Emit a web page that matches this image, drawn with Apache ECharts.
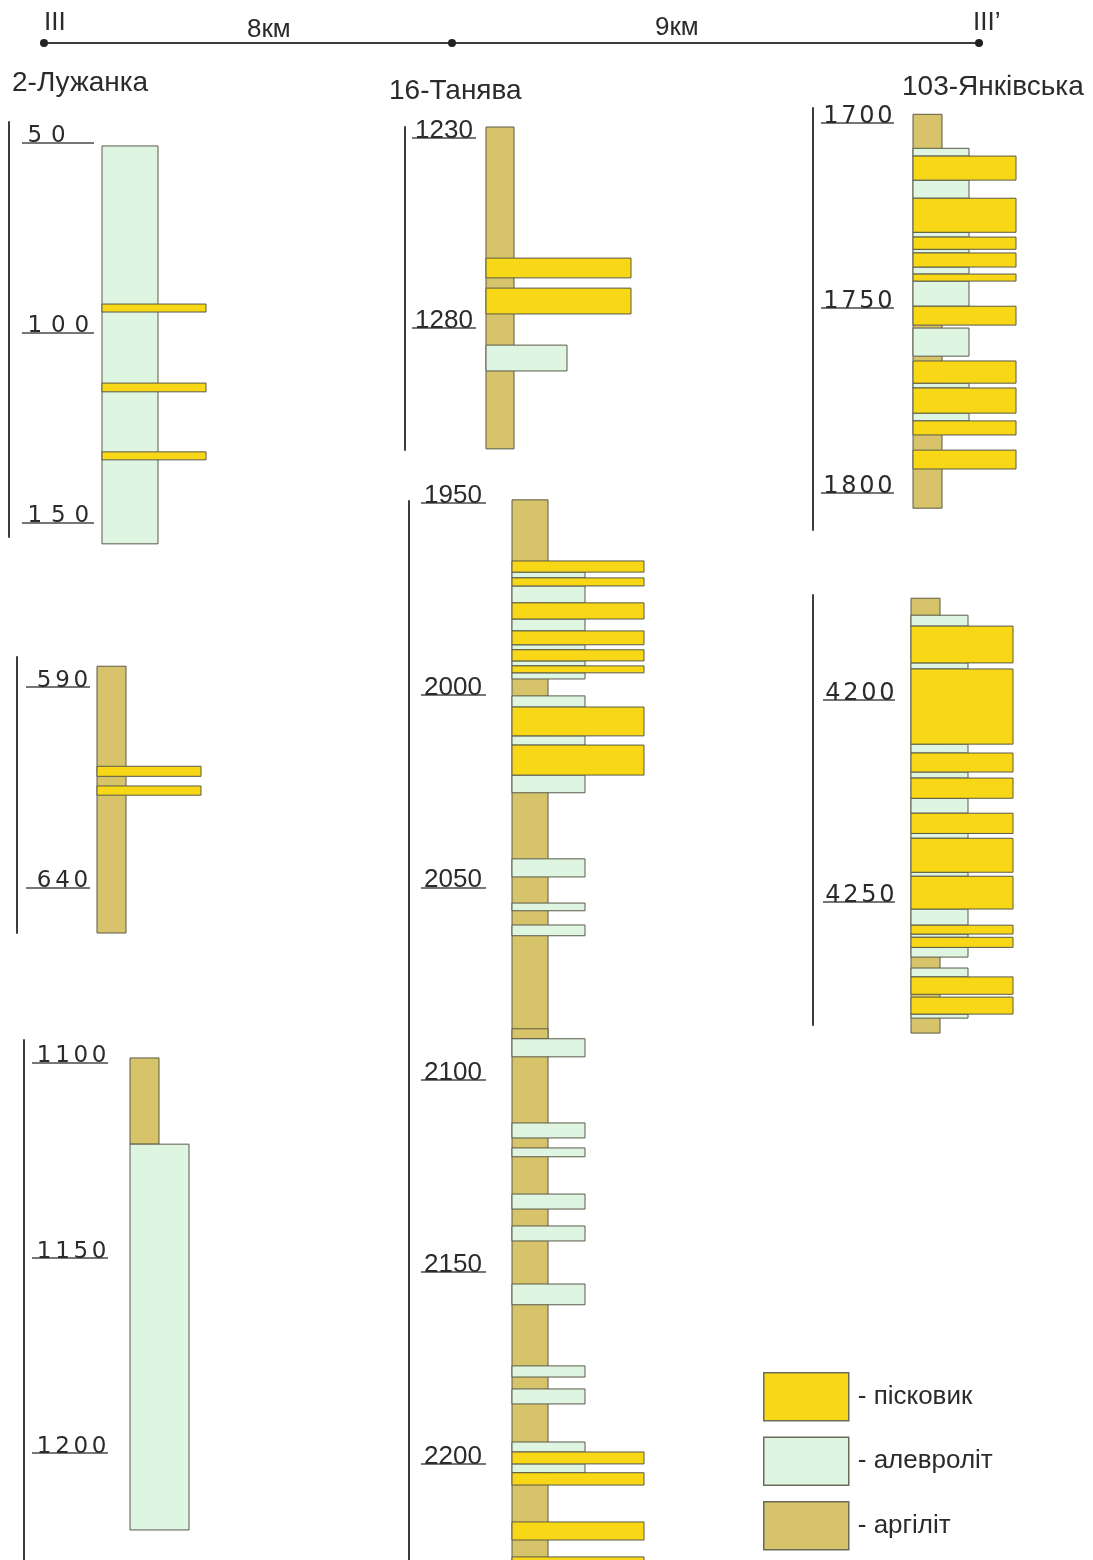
<!DOCTYPE html>
<html>
<head>
<meta charset="utf-8">
<script src="https://cdn.jsdelivr.net/npm/echarts@6/dist/echarts.min.js"></script>
<style>
  html, body { margin: 0; padding: 0; background: #ffffff; }
  #chart { width: 1093px; height: 1560px; }
</style>
</head>
<body>
<div id="chart"></div>
<script>
// ---- Well intervals: [top depth, bottom depth, rock type] (depth in metres) ----
const luzhankaUpper = [
  [50.8, 155.5, 'silt'],
  [92.4, 94.5, 'sand'],
  [113.2, 115.5, 'sand'],
  [131.3, 133.4, 'sand']
];
const luzhankaMiddle = [
  [584.8, 651.2, 'arg'],
  [609.7, 612.2, 'sand'],
  [614.6, 616.9, 'sand']
];
const luzhankaLower = [
  [1098.7, 1120.8, 'arg'],
  [1120.8, 1219.7, 'silt']
];
const tanyavaUpper = [
  [1227.1, 1311.8, 'arg'],
  [1261.6, 1266.8, 'sand'],
  [1269.5, 1276.3, 'sand'],
  [1284.5, 1291.3, 'silt']
];
const tanyavaLower = [
  [1949.2, 2228.0, 'arg'],
  [2086.8, 2089.4, 'arg'],
  [1965.1, 1968.0, 'sand'], [1968.0, 1969.5, 'silt'],
  [1969.5, 1971.6, 'sand'], [1971.6, 1976.0, 'silt'],
  [1976.0, 1980.2, 'sand'], [1980.2, 1983.3, 'silt'],
  [1983.3, 1986.9, 'sand'], [1986.9, 1988.2, 'silt'],
  [1988.2, 1991.1, 'sand'], [1991.1, 1992.4, 'silt'],
  [1992.4, 1994.2, 'sand'], [1994.2, 1995.8, 'silt'],
  [2000.2, 2003.1, 'silt'], [2003.1, 2010.6, 'sand'],
  [2010.6, 2013.0, 'silt'], [2013.0, 2020.8, 'sand'],
  [2020.8, 2025.4, 'silt'],
  [2042.6, 2047.3, 'silt'], [2054.1, 2056.1, 'silt'],
  [2059.8, 2062.6, 'silt'], [2089.4, 2094.1, 'silt'],
  [2111.3, 2115.2, 'silt'], [2117.8, 2120.1, 'silt'],
  [2129.8, 2133.7, 'silt'], [2138.1, 2142.0, 'silt'],
  [2153.2, 2158.6, 'silt'], [2174.5, 2177.4, 'silt'],
  [2180.5, 2184.4, 'silt'], [2194.3, 2196.9, 'silt'],
  [2196.9, 2200.0, 'sand'], [2200.0, 2202.3, 'silt'],
  [2202.3, 2205.5, 'sand'], [2215.1, 2219.8, 'sand'],
  [2224.2, 2228.0, 'sand']
];
const yankivskaUpper = [
  [1697.6, 1804.1, 'arg'],
  [1706.8, 1708.9, 'silt'], [1708.9, 1715.4, 'sand'],
  [1715.4, 1720.3, 'silt'], [1720.3, 1729.5, 'sand'],
  [1729.5, 1730.8, 'silt'], [1730.8, 1734.1, 'sand'],
  [1734.1, 1735.1, 'silt'], [1735.1, 1738.9, 'sand'],
  [1738.9, 1740.8, 'silt'], [1740.8, 1742.7, 'sand'],
  [1742.7, 1749.5, 'silt'], [1749.5, 1754.6, 'sand'],
  [1755.4, 1763.0, 'silt'], [1764.3, 1770.3, 'sand'],
  [1770.3, 1771.6, 'silt'], [1771.6, 1778.4, 'sand'],
  [1778.4, 1780.5, 'silt'], [1780.5, 1784.3, 'sand'],
  [1788.4, 1793.5, 'sand']
];
const yankivskaLower = [
  [4174.8, 4282.4, 'arg'],
  [4179.0, 4181.7, 'silt'], [4181.7, 4190.8, 'sand'],
  [4190.8, 4192.3, 'silt'], [4192.3, 4210.9, 'sand'],
  [4210.9, 4213.1, 'silt'], [4213.1, 4217.8, 'sand'],
  [4217.8, 4219.3, 'silt'], [4219.3, 4224.3, 'sand'],
  [4224.3, 4228.0, 'silt'], [4228.0, 4233.0, 'sand'],
  [4233.0, 4234.2, 'silt'], [4234.2, 4242.6, 'sand'],
  [4242.6, 4243.6, 'silt'], [4243.6, 4251.7, 'sand'],
  [4251.7, 4255.7, 'silt'], [4255.7, 4257.9, 'sand'],
  [4257.9, 4258.7, 'silt'], [4258.7, 4261.2, 'sand'],
  [4261.2, 4263.6, 'silt'], [4266.3, 4268.5, 'silt'],
  [4268.5, 4272.8, 'sand'], [4273.5, 4277.7, 'sand'],
  [4277.7, 4278.7, 'silt']
];

// ---- Depth tick labels ----
const luzhankaUpperTicks = [50, 100, 150];
const luzhankaMiddleTicks = [590, 640];
const luzhankaLowerTicks = [1100, 1150, 1200];
const tanyavaUpperTicks = [1230, 1280];
const tanyavaLowerTicks = [1950, 2000, 2050, 2100, 2150, 2200];
const yankivskaUpperTicks = [1700, 1750, 1800];
const yankivskaLowerTicks = [4200, 4250];

// ---- Names ----
const wellNames = ['2-Лужанка', '16-Танява', '103-Янківська'];
const profileEnds = ['III', 'III\u2019'];
const distances = ['8км', '9км'];
const rockTypes = ['sand', 'silt', 'arg'];
const rockNames = { sand: 'пісковик', silt: 'алевроліт', arg: 'аргіліт' };

// ---- Styling ----
const rockColors = { sand: '#f8d816', silt: '#def5e2', arg: '#d7c46a' };
const rockStroke = '#5a5a48';
const WIDE = 'DejaVu Sans';
const PLAIN = 'Liberation Sans';

// Section layout: depth range of the depth bar and pixel placement of each log.
// digit > 0 spreads the label digits into fixed-width cells (wide lettering).
const sections = [
  { layers: luzhankaUpper,  ticks: luzhankaUpperTicks,  range: [44.5, 153.7],
    lineX: 9,   top: 122, bottom: 537,  col: 102, w: { arg: 29, silt: 56, sand: 104 },
    ul: 22,  ulLen: 72, margin: 1, font: WIDE,  size: 23, digit: 23.5, lh: 13 },
  { layers: luzhankaMiddle, ticks: luzhankaMiddleTicks, range: [582.5, 651.2],
    lineX: 17,  top: 657, bottom: 933,  col: 97,  w: { arg: 29, silt: 56, sand: 104 },
    ul: 26,  ulLen: 64, margin: 9, font: WIDE,  size: 23, digit: 18.3, lh: 13 },
  { layers: luzhankaLower,  ticks: luzhankaLowerTicks,  range: [1094.1, 1227.4],
    lineX: 24,  top: 1040, bottom: 1560, col: 130, w: { arg: 29, silt: 59, sand: 104 },
    ul: 32,  ulLen: 76, margin: 3, font: WIDE,  size: 23, digit: 18.3, lh: 13 },
  { layers: tanyavaUpper,   ticks: tanyavaUpperTicks,   range: [1227.1, 1312.1],
    lineX: 405, top: 127, bottom: 450,  col: 486, w: { arg: 28, silt: 81, sand: 145 },
    ul: 412, ulLen: 64, margin: 3, font: PLAIN, size: 26, digit: 0, lh: 14 },
  { layers: tanyavaLower,   ticks: tanyavaLowerTicks,   range: [1949.5, 2225.0],
    lineX: 409, top: 501, bottom: 1560, col: 512, w: { arg: 36, silt: 73, sand: 132 },
    ul: 421, ulLen: 65, margin: 3, font: PLAIN, size: 26, digit: 0, lh: 14 },
  { layers: yankivskaUpper, ticks: yankivskaUpperTicks, range: [1695.9, 1810.0],
    lineX: 813, top: 108, bottom: 530,  col: 913, w: { arg: 29, silt: 56, sand: 103 },
    ul: 821, ulLen: 73, margin: 1, font: WIDE,  size: 24, digit: 18, lh: 13 },
  { layers: yankivskaLower, ticks: yankivskaLowerTicks, range: [4174.0, 4280.4],
    lineX: 813, top: 595, bottom: 1025, col: 911, w: { arg: 29, silt: 57, sand: 102 },
    ul: 823, ulLen: 72, margin: 1, font: WIDE,  size: 24, digit: 18, lh: 13 }
];

const grid = [], xAxis = [], yAxis = [], series = [];

sections.forEach(function (s, i) {
  const shift = s.col - s.ul;   // column starts this far right of the depth marks
  grid.push({ left: s.ul, top: s.top, width: shift + s.w.sand, height: s.bottom - s.top });
  xAxis.push({ gridIndex: i, type: 'value', min: 0, max: 1, show: false });

  // depth bar (vertical line)
  yAxis.push({
    gridIndex: i, type: 'value', inverse: true, min: s.range[0], max: s.range[1],
    position: 'left', offset: s.ul - s.lineX,
    axisLine: { show: true, onZero: false, lineStyle: { color: '#3c3c3c', width: 2 } },
    axisTick: { show: false }, axisLabel: { show: false }, splitLine: { show: false }
  });

  // underlined depth marks
  const labelRich = s.digit ? {
    d: { width: s.digit, align: 'center', fontFamily: s.font, fontSize: s.size,
         lineHeight: s.lh, color: '#2b2b2b' }
  } : undefined;
  yAxis.push({
    gridIndex: i, type: 'value', inverse: true, min: s.range[0], max: s.range[1],
    position: 'left',
    axisLine: { show: false },
    axisTick: { show: true, inside: true, length: s.ulLen, customValues: s.ticks,
      lineStyle: { color: '#4a4a4a', width: 1.5 } },
    axisLabel: {
      show: true, inside: true, customValues: s.ticks, margin: s.margin,
      align: 'left', verticalAlign: 'bottom', lineHeight: s.lh,
      fontFamily: s.font, fontSize: s.size, color: '#2b2b2b',
      rich: labelRich,
      formatter: function (v) {
        const txt = String(v);
        if (!s.digit) return txt;
        return txt.split('').map(function (c) { return '{d|' + c + '}'; }).join('');
      }
    },
    splitLine: { show: false }
  });

  rockTypes.slice().reverse().forEach(function (rock) {
    const rows = s.layers.filter(function (r) { return r[2] === rock; })
      .map(function (r) { return [r[0], r[1]]; });
    series.push({
      type: 'custom',
      name: rockNames[rock],
      xAxisIndex: i, yAxisIndex: 2 * i + 1,
      clip: false,
      itemStyle: { color: rockColors[rock], borderColor: rockStroke, borderWidth: 1 },
      encode: { y: [0, 1] },
      data: rows,
      renderItem: function (params, api) {
        const p0 = api.coord([0, api.value(0)]);
        const p1 = api.coord([0, api.value(1)]);
        return {
          type: 'rect',
          shape: { x: p0[0] + shift, y: p0[1], width: s.w[rock], height: p1[1] - p0[1] },
          style: { fill: rockColors[rock], stroke: rockStroke, lineWidth: 1 }
        };
      }
    });
  });
});

const headerFont = 'Liberation Sans, sans-serif';
function headerText(txt, x, y, size) {
  return { type: 'text', x: x, y: y,
    style: { text: txt, font: size + 'px ' + headerFont, fill: '#2b2b2b',
             verticalAlign: 'middle', align: 'left' } };
}

const option = {
  animation: false,
  backgroundColor: '#ffffff',
  grid: grid,
  xAxis: xAxis,
  yAxis: yAxis,
  series: series,
  legend: {
    orient: 'vertical', left: 758, top: 1367,
    itemWidth: 85, itemHeight: 48, itemGap: 15,
    selectedMode: false,
    data: rockTypes.map(function (r) {
      return { name: rockNames[r], icon: 'rect',
        itemStyle: { color: rockColors[r], borderColor: '#6b6b5c', borderWidth: 1.5 } };
    }),
    formatter: function (n) { return '- ' + n; },
    textStyle: { fontFamily: PLAIN, fontSize: 26, color: '#2b2b2b', padding: [0, 0, 0, 4] }
  },
  graphic: [
    { type: 'line', shape: { x1: 44, y1: 43, x2: 979, y2: 43 },
      style: { stroke: '#3c3c3c', lineWidth: 2 } },
    { type: 'circle', shape: { cx: 44, cy: 43, r: 4 }, style: { fill: '#222' } },
    { type: 'circle', shape: { cx: 452, cy: 43, r: 4 }, style: { fill: '#222' } },
    { type: 'circle', shape: { cx: 979, cy: 43, r: 4 }, style: { fill: '#222' } },
    headerText(profileEnds[0], 44, 23, 26),
    headerText(profileEnds[1], 973, 23, 26),
    headerText(distances[0], 247, 30, 26),
    headerText(distances[1], 655, 28, 26),
    headerText(wellNames[0], 12, 83, 28),
    headerText(wellNames[1], 389, 91, 28),
    headerText(wellNames[2], 902, 87, 28)
  ]
};

const chart = echarts.init(document.getElementById('chart'), null, { renderer: 'canvas' });
chart.setOption(option);
</script>
</body>
</html>
